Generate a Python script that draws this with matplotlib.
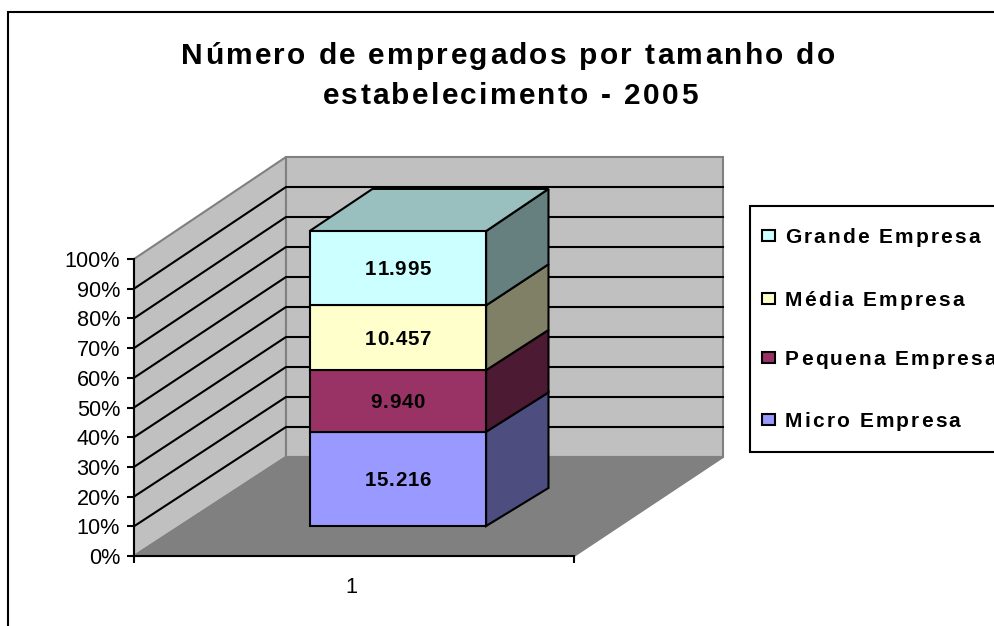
import matplotlib
matplotlib.use('Agg')
import matplotlib.pyplot as plt
from matplotlib.lines import Line2D
from matplotlib.patches import Rectangle
from matplotlib.text import Text
from matplotlib.transforms import Affine2D, IdentityTransform, offset_copy

plt.rcParams['font.family'] = ['Liberation Sans', 'DejaVu Sans']

series_names = ['Micro Empresa', 'Pequena Empresa', 'Média Empresa', 'Grande Empresa']
series_values = [15.216, 9.940, 10.457, 11.995]
front_colors = ['#9999FF', '#993366', '#FFFFCC', '#CCFFFF']
side_colors = ['#4D4D80', '#4D1A33', '#808066', '#668080']
top_color = '#99BFBF'
y_ticks = [0, 10, 20, 30, 40, 50, 60, 70, 80, 90, 100]
category = '1'
title_lines = ['Número de empregados por tamanho do', 'estabelecimento - 2005']

W, H = 994, 626


class SpacedText(Text):
    # the reference text has wide letter spacing, matplotlib has no option for it
    def __init__(self, x, y, s, spacing=0, **kw):
        super().__init__(x, y, s, **kw)
        self.spacing = spacing

    def draw(self, renderer):
        s = self.get_text()
        prop = self.get_fontproperties()
        x, y = self.get_transform().transform(self.get_position())
        widths = [renderer.get_text_width_height_descent(s[:i], prop, False)[0] if i else 0
                  for i in range(len(s) + 1)]
        total = widths[-1] + self.spacing * (len(s) - 1)
        left = x - total / 2 if self.get_ha() == 'center' else x
        for i, ch in enumerate(s):
            if ch == ' ':
                continue
            piece = Text(left + widths[i] + i * self.spacing, y, ch, fontproperties=prop,
                         color=self.get_color(), ha='left', va='baseline',
                         transform=IdentityTransform())
            piece.set_figure(self.get_figure())
            piece.draw(renderer)

    def get_window_extent(self, renderer=None, dpi=None):
        box = super().get_window_extent(renderer, dpi)
        extra = self.spacing * (len(self.get_text()) - 1)
        if self.get_ha() == 'center':
            return box.expanded(1 + extra / max(box.width, 1), 1)
        box.x1 += extra
        return box


fig = plt.figure(figsize=(W / 100, H / 100), dpi=100, facecolor='white')
ax = fig.add_axes([134 / W, (H - 556) / H, 440 / W, 297 / H])
ax.patch.set_visible(False)
fig_px = Affine2D().scale(1 / W, -1 / H).translate(0, 1) + fig.transFigure

line_w = 1.5


def project(x, pct, d=0.0):
    # d is depth into the chart, 0 front plane, 1 back wall
    return x + d * (152 - 3 * x) / 440, pct * (1 + d * 0.0101) + d * 99 / 2.97


def poly(points, color, edge='none', z=1):
    xs = [p[0] for p in points]
    ys = [p[1] for p in points]
    ax.fill(xs, ys, facecolor=color, edgecolor=edge, lw=line_w, clip_on=False, zorder=z,
            joinstyle='miter')


# walls and floor
poly([project(0, 0), project(0, 100), project(0, 100, 1), project(0, 0, 1)], '#C0C0C0', '#808080')
poly([project(0, 0, 1), project(0, 100, 1), project(1, 100, 1), project(1, 0, 1)], '#C0C0C0', '#808080')
poly([project(0, 0), project(1, 0), project(1, 0, 1), project(0, 0, 1)], '#808080', '#808080', 1.5)

for t in y_ticks[1:-1]:
    pts = [project(0, t), project(0, t, 1), project(1, t, 1)]
    ax.plot([p[0] for p in pts], [p[1] for p in pts], color='black', lw=line_w, clip_on=False, zorder=2)

# stacked column
total = sum(series_values)
bar_x0, bar_x1 = 0.295, 0.697
d_front, d_back = 0.303, 0.687
back_shift = 0.011
base = 0
for i, value in enumerate(series_values):
    pct0 = base / total * 100
    pct1 = (base + value) / total * 100
    f00 = project(bar_x0, pct0 * 0.99, d_front)
    f10 = project(bar_x1, pct0 * 0.99, d_front)
    f11 = project(bar_x1, pct1 * 0.99, d_front)
    f01 = project(bar_x0, pct1 * 0.99, d_front)
    b10 = project(bar_x1 + back_shift, pct0, d_back)
    b11 = project(bar_x1 + back_shift, pct1, d_back)
    b01 = project(bar_x0 + back_shift, pct1, d_back)
    poly([f10, b10, b11, f11], side_colors[i], 'black', 3)
    if i == len(series_values) - 1:
        poly([f01, f11, b11, b01], top_color, 'black', 3)
    poly([f00, f10, f11, f01], front_colors[i], 'black', 3.5)
    label_tr = offset_copy(ax.transData, fig=fig, y=-7, units='dots')
    ax.add_artist(SpacedText((f00[0] + f10[0]) / 2, (f00[1] + f01[1]) / 2, f'{value:.3f}', spacing=0.7,
                             transform=label_tr, ha='center', fontsize=14.8, fontweight='bold',
                             color='black', zorder=5))
    base += value

# axes
ax.set_xlim(0, 1)
ax.set_ylim(0, 100)
ax.set_yticks(y_ticks)
ax.set_yticklabels([f'{t}%' for t in y_ticks], fontsize=15.6)
ax.set_xticks([0, 1])
ax.set_xticklabels(['', ''])
ax.set_xticks([0.495], minor=True)
ax.set_xticklabels([category], minor=True, fontsize=15.6)
ax.tick_params(axis='y', length=5, width=line_w, pad=5)
ax.tick_params(axis='x', which='major', length=5, width=line_w)
ax.tick_params(axis='x', which='minor', length=0, pad=15)
ax.spines['top'].set_visible(False)
ax.spines['right'].set_visible(False)
ax.spines['left'].set_linewidth(line_w)
ax.spines['bottom'].set_linewidth(line_w)

# title
for line, base_y, cx in zip(title_lines, [64, 104], [508, 510]):
    fig.add_artist(SpacedText(cx, base_y, line, spacing=2.3, transform=fig_px, ha='center',
                              fontsize=21.5, fontweight='bold', color='black'))

# legend, top entry is the top of the stack
fig.add_artist(Rectangle((750, 206), 300, 246, transform=fig_px, facecolor='white',
                         edgecolor='black', lw=line_w))
legend_base = [427, 365, 306, 243]
for i, name in enumerate(series_names):
    fig.add_artist(Rectangle((762, legend_base[i] - 13), 13, 11, transform=fig_px,
                             facecolor=front_colors[i], edgecolor='black', lw=line_w))
    fig.add_artist(SpacedText(785, legend_base[i], name, spacing=2.1, transform=fig_px, ha='left',
                              fontsize=15, fontweight='bold', color='black'))

# chart border, right and bottom sides are cut off in the reference
fig.add_artist(Line2D([8, 8, W], [H, 12, 12], transform=fig_px, color='black', lw=line_w,
                      solid_joinstyle='miter'))

fig.savefig('out.png', dpi=100)
